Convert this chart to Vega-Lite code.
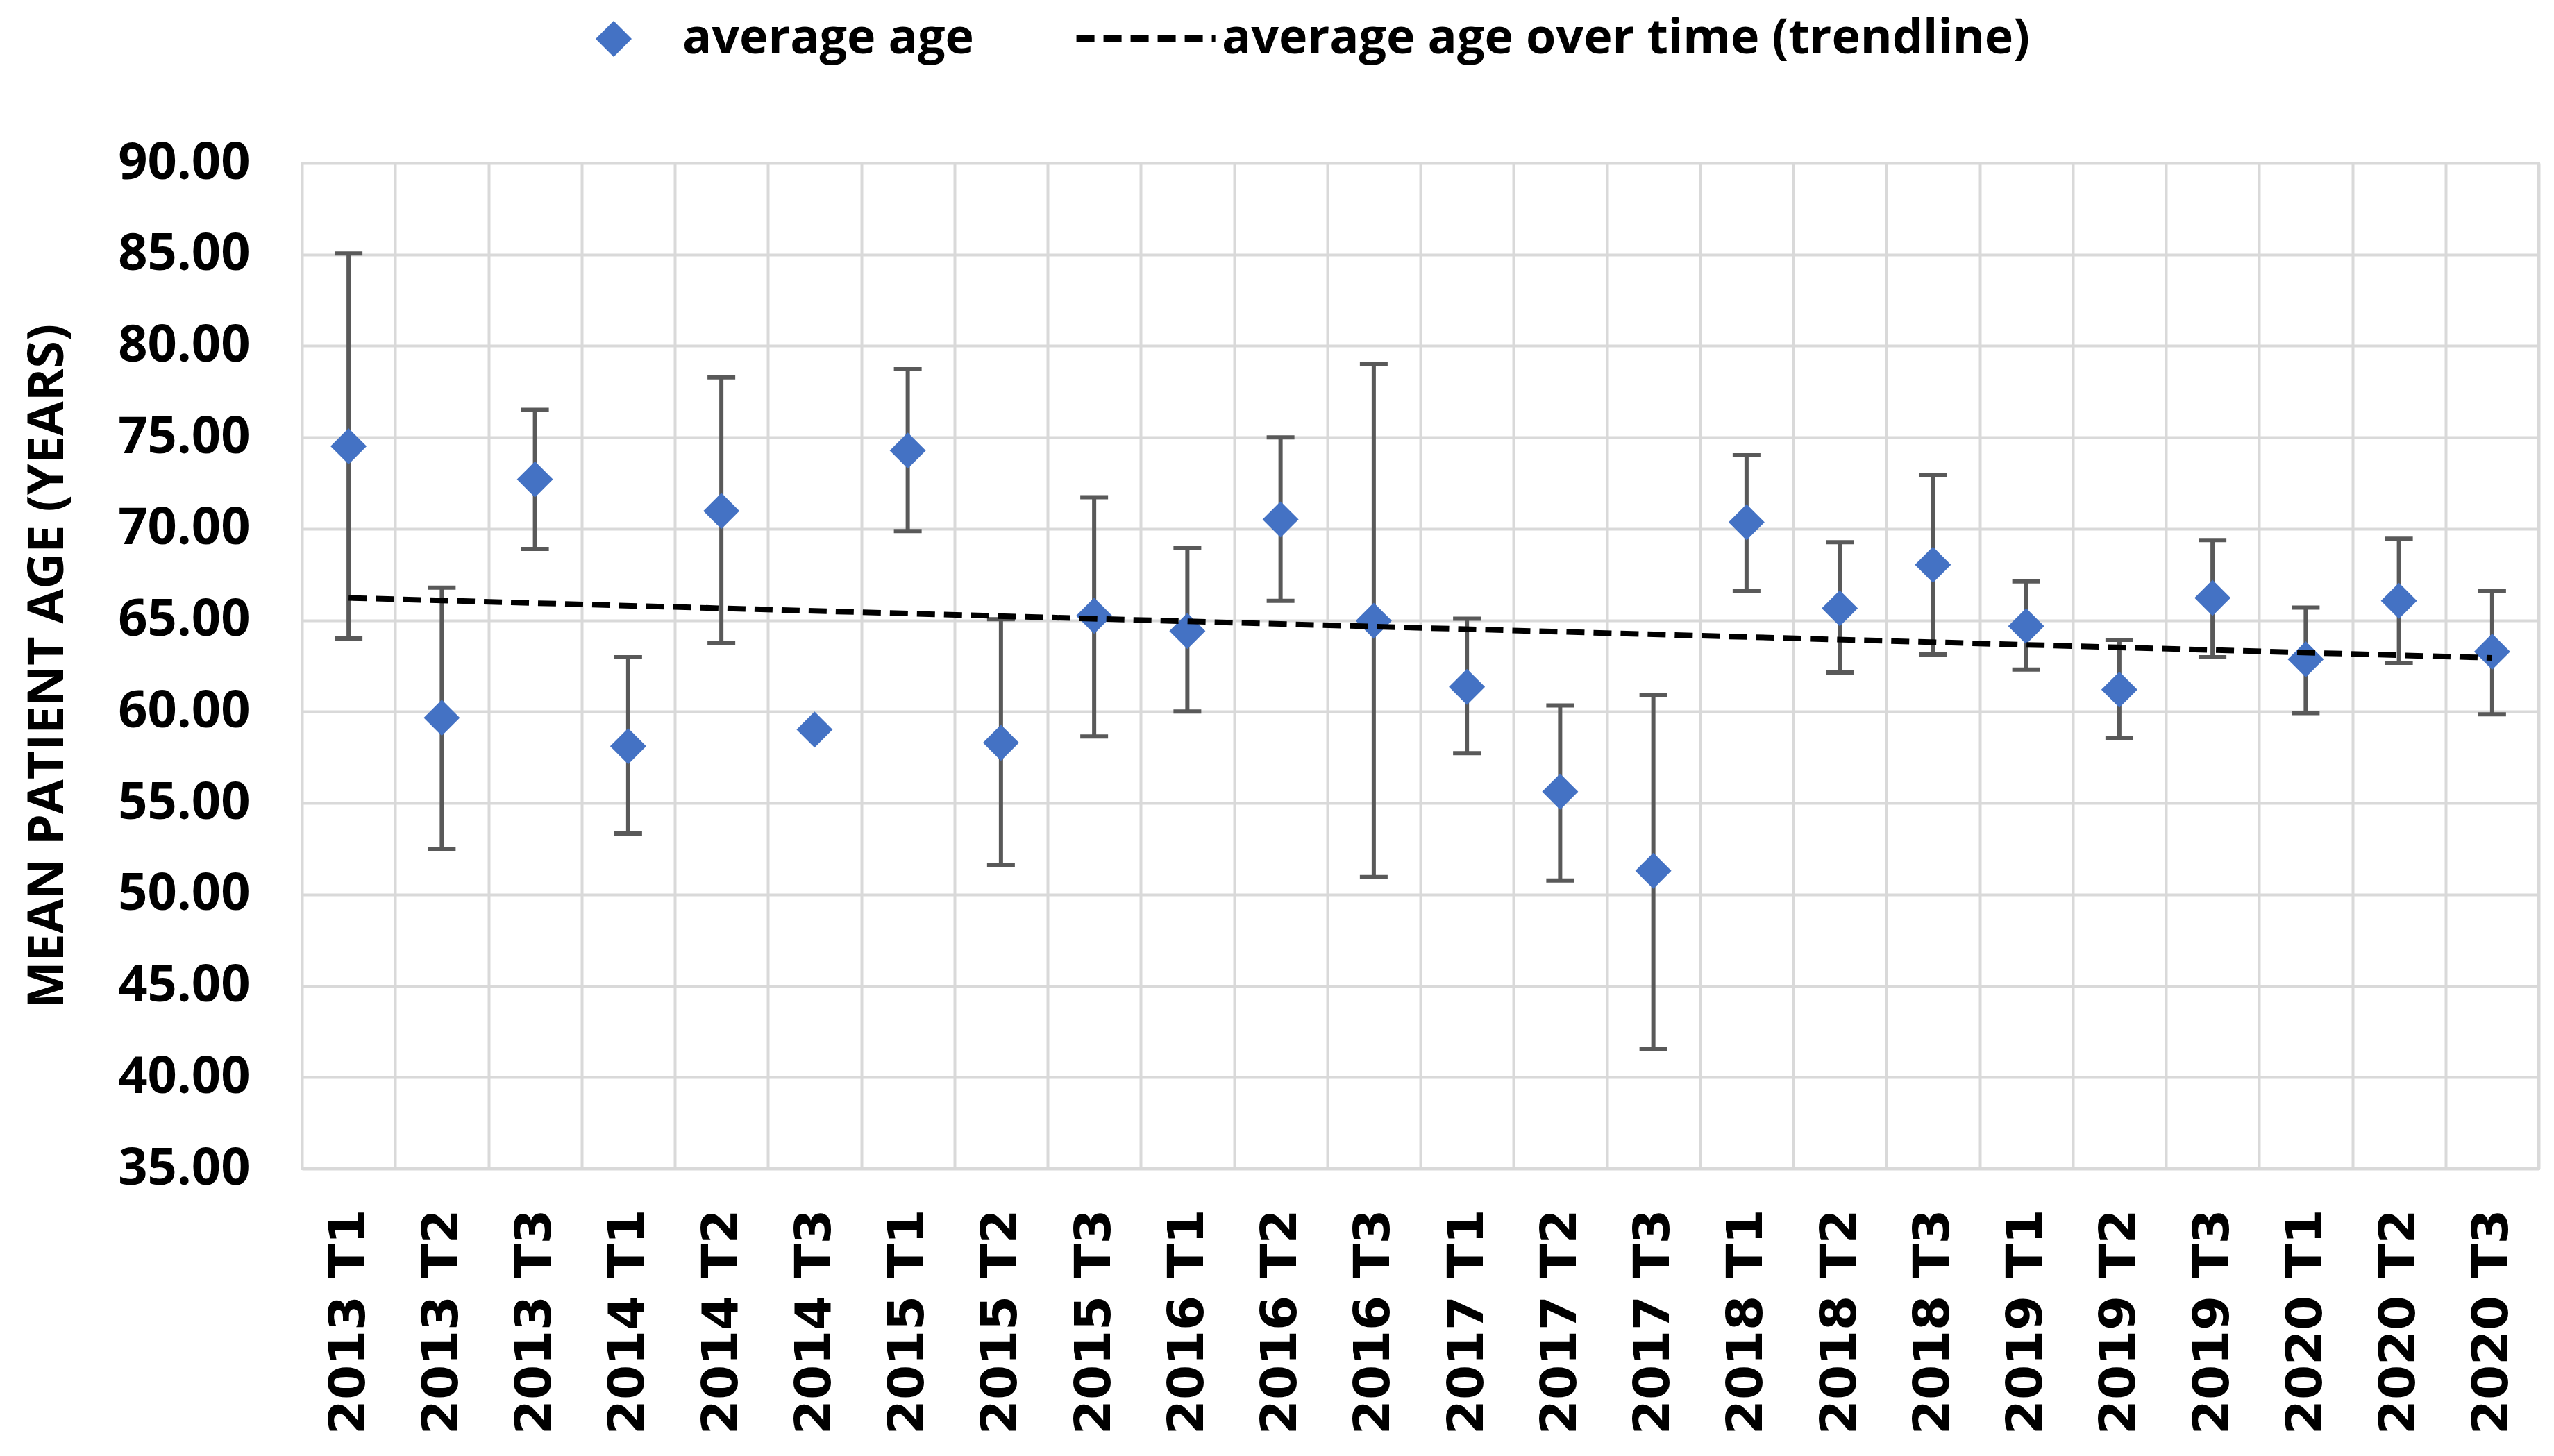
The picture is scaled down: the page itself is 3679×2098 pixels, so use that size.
{
  "$schema": "https://vega.github.io/schema/vega-lite/v6.json",
  "width": 3222,
  "height": 1449,
  "autosize": {"type": "none"},
  "padding": {"left": 435, "top": 235, "right": 22, "bottom": 414},
  "background": "white",
  "datasets": {
    "points": [
      {"period": "2013 T1", "mean": 74.51, "lo": 64.0, "hi": 85.06, "series": "average age"},
      {"period": "2013 T2", "mean": 59.66, "lo": 52.5, "hi": 66.78, "series": "average age"},
      {"period": "2013 T3", "mean": 72.7, "lo": 68.9, "hi": 76.51, "series": "average age"},
      {"period": "2014 T1", "mean": 58.11, "lo": 53.33, "hi": 62.97, "series": "average age"},
      {"period": "2014 T2", "mean": 70.97, "lo": 63.73, "hi": 78.28, "series": "average age"},
      {"period": "2014 T3", "mean": 59.02, "lo": null, "hi": null, "series": "average age"},
      {"period": "2015 T1", "mean": 74.28, "lo": 69.87, "hi": 78.73, "series": "average age"},
      {"period": "2015 T2", "mean": 58.3, "lo": 51.59, "hi": 65.05, "series": "average age"},
      {"period": "2015 T3", "mean": 65.24, "lo": 58.64, "hi": 71.72, "series": "average age"},
      {"period": "2016 T1", "mean": 64.41, "lo": 60.0, "hi": 68.93, "series": "average age"},
      {"period": "2016 T2", "mean": 70.51, "lo": 66.06, "hi": 75.0, "series": "average age"},
      {"period": "2016 T3", "mean": 64.97, "lo": 50.95, "hi": 79.0, "series": "average age"},
      {"period": "2017 T1", "mean": 61.35, "lo": 57.73, "hi": 65.08, "series": "average age"},
      {"period": "2017 T2", "mean": 55.62, "lo": 50.76, "hi": 60.34, "series": "average age"},
      {"period": "2017 T3", "mean": 51.29, "lo": 41.56, "hi": 60.9, "series": "average age"},
      {"period": "2018 T1", "mean": 70.36, "lo": 66.59, "hi": 74.02, "series": "average age"},
      {"period": "2018 T2", "mean": 65.65, "lo": 62.14, "hi": 69.27, "series": "average age"},
      {"period": "2018 T3", "mean": 68.03, "lo": 63.13, "hi": 72.96, "series": "average age"},
      {"period": "2019 T1", "mean": 64.67, "lo": 62.3, "hi": 67.12, "series": "average age"},
      {"period": "2019 T2", "mean": 61.2, "lo": 58.56, "hi": 63.92, "series": "average age"},
      {"period": "2019 T3", "mean": 66.22, "lo": 62.97, "hi": 69.38, "series": "average age"},
      {"period": "2020 T1", "mean": 62.86, "lo": 59.92, "hi": 65.69, "series": "average age"},
      {"period": "2020 T2", "mean": 66.06, "lo": 62.67, "hi": 69.46, "series": "average age"},
      {"period": "2020 T3", "mean": 63.28, "lo": 59.85, "hi": 66.59, "series": "average age"}
    ],
    "trend": [
      {"period": "2013 T1", "trend": 66.22, "series": "average age over time (trendline)"},
      {"period": "2020 T3", "trend": 62.94, "series": "average age over time (trendline)"}
    ]
  },
  "encoding": {
    "x": {
      "field": "period",
      "type": "nominal",
      "scale": {"paddingInner": 0, "paddingOuter": 0},
      "axis": {
        "title": null,
        "labelAngle": -90,
        "labelFont": "DejaVu Sans",
        "labelFontWeight": "bold",
        "labelFontSize": 72,
        "labelColor": "#000000",
        "labelPadding": 58,
        "labelLimit": 0,
        "ticks": false,
        "domain": false,
        "grid": true,
        "tickBand": "extent",
        "gridColor": "#d9d9d9",
        "gridWidth": 4
      }
    }
  },
  "layer": [
    {
      "data": {"name": "points"},
      "transform": [{"filter": "datum.lo != null"}],
      "mark": {"type": "rule", "color": "#595959", "strokeWidth": 6},
      "encoding": {
        "y": {
          "field": "lo",
          "type": "quantitative",
          "scale": {"domain": [35, 90], "nice": false, "zero": false},
          "axis": {
            "title": "MEAN PATIENT AGE (YEARS)",
            "values": [35, 40, 45, 50, 55, 60, 65, 70, 75, 80, 85, 90],
            "format": ".2f",
            "labelFont": "Open Sans",
            "labelFontWeight": "bold",
            "labelFontSize": 74,
            "labelColor": "#000000",
            "labelPadding": 75,
            "labelLimit": 0,
            "ticks": false,
            "domain": false,
            "grid": true,
            "gridColor": "#d9d9d9",
            "gridWidth": 4,
            "titleFont": "Open Sans",
            "titleFontWeight": "bold",
            "titleFontSize": 72,
            "titleColor": "#000000",
            "titlePadding": 130
          }
        },
        "y2": {"field": "hi"}
      }
    },
    {
      "data": {"name": "points"},
      "transform": [{"filter": "datum.lo != null"}],
      "mark": {"type": "tick", "color": "#595959", "size": 40, "thickness": 6, "opacity": 1},
      "encoding": {"y": {"field": "lo", "type": "quantitative"}}
    },
    {
      "data": {"name": "points"},
      "transform": [{"filter": "datum.hi != null"}],
      "mark": {"type": "tick", "color": "#595959", "size": 40, "thickness": 6, "opacity": 1},
      "encoding": {"y": {"field": "hi", "type": "quantitative"}}
    },
    {
      "data": {"name": "points"},
      "mark": {"type": "point", "filled": true, "opacity": 1, "size": 2700, "strokeWidth": 0},
      "encoding": {
        "y": {"field": "mean", "type": "quantitative"},
        "color": {
          "field": "series",
          "type": "nominal",
          "scale": {"domain": ["average age", "average age over time (trendline)"], "range": ["#4472C4", "#000000"]},
          "legend": {
            "title": null,
            "encode": {
              "symbols": {
                "update": {
                  "stroke": {"scale": "color", "field": "value"},
                  "strokeWidth": {"signal": "datum.value == 'average age' ? 0 : 10"}
                }
              }
            }
          }
        },
        "shape": {
          "field": "series",
          "type": "nominal",
          "scale": {"domain": ["average age", "average age over time (trendline)"], "range": ["diamond", "M-4.25,0L3.45,0"]},
          "legend": {"title": null}
        }
      }
    },
    {
      "data": {"name": "trend"},
      "mark": {"type": "line", "strokeWidth": 8},
      "encoding": {
        "y": {"field": "trend", "type": "quantitative"},
        "color": {"field": "series", "type": "nominal", "legend": {"title": null}},
        "strokeDash": {
          "field": "series",
          "type": "nominal",
          "scale": {"domain": ["average age", "average age over time (trendline)"], "range": [[1, 0], [26, 13]]},
          "legend": {"title": null}
        }
      }
    }
  ],
  "config": {
    "view": {"stroke": "#d9d9d9", "strokeWidth": 4},
    "legend": {
      "orient": "none",
      "direction": "horizontal",
      "legendX": 414,
      "legendY": -214,
      "padding": 0,
      "symbolSize": 2700,
      "symbolOpacity": 1,
      "labelFont": "Open Sans",
      "labelFontWeight": "bold",
      "labelFontSize": 70,
      "labelColor": "#000000",
      "labelOffset": 64,
      "labelLimit": 0,
      "columnPadding": 127,
      "rowPadding": 0
    }
  }
}
